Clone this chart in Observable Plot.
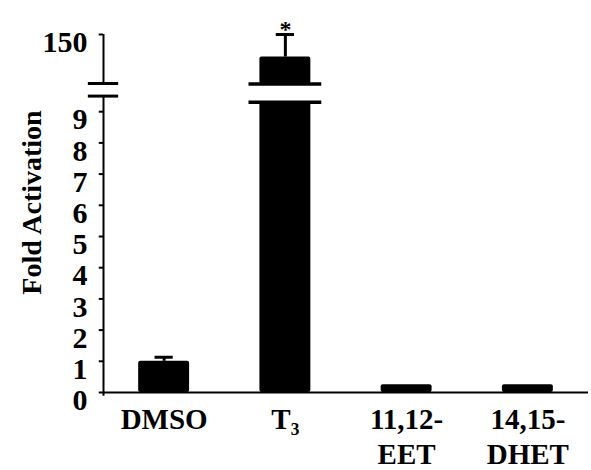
<!DOCTYPE html>
<html>
<head>
<meta charset="utf-8">
<script src="https://cdn.jsdelivr.net/npm/d3@7"></script>
<script src="https://cdn.jsdelivr.net/npm/@observablehq/plot@0.6"></script>
<style>
  body { margin: 0; background: #fff; }
  #chart svg { display: block; }
</style>
</head>
<body>
<div id="chart"></div>
<script>
// Treatment groups, mean fold activation and upper error (SD)
const groups = ["DMSO", "T₃", "11,12-\nEET", "14,15-\nDHET"];
const means = [1.0, 127, 0.25, 0.25];
const errors = [0.13, 23, 0, 0];
const significant = [false, true, false, false];
const yTicks = [0, 1, 2, 3, 4, 5, 6, 7, 8, 9, 150];

// Broken y axis: lower panel 0–9.5, upper panel 100–150
const lowerTop = 9.5, upperBottom = 100, upperTop = 150;
// Where a tall bar is cut on either side of the gap
const barCutLow = 9.3, barCutHigh = 96;

const rows = groups.map((g, i) => ({i, g, mean: means[i], err: errors[i], sig: significant[i]}));
const broken = rows.filter(d => d.mean > upperBottom);
const withErr = rows.filter(d => d.err > 0);

const half = 0.21;       // half bar width, in category units
const capHalf = 0.075;   // half error-cap width
const breakHalf = 0.3;   // half width of the bar break lines
const axisBreakHalf = 0.125;
const tickLen = 0.035;   // y tick length, in category units

const font = "'Liberation Serif', 'Times New Roman', serif";

const chart = Plot.plot({
  width: 591,
  height: 470,
  marginLeft: 103,
  marginRight: 3,
  marginTop: 34,
  marginBottom: 78,
  style: {fontFamily: font, fontWeight: "bold", fontSize: "26px", color: "#000", background: "#fff"},
  x: {type: "linear", domain: [-0.5, 3.5], range: [103, 588], axis: null},
  y: {type: "linear", domain: [0, lowerTop, upperBottom, upperTop], range: [392, 95.6, 83, 34], axis: null},
  marks: [
    // bars (lower part)
    Plot.rectY(rows, {
      x1: d => d.i - half, x2: d => d.i + half,
      y1: 0, y2: d => d.mean > lowerTop ? barCutLow : d.mean,
      fill: "#000", rx: 2
    }),
    // bars (upper part, above the break)
    Plot.rectY(broken, {
      x1: d => d.i - half, x2: d => d.i + half,
      y1: barCutHigh, y2: d => d.mean,
      fill: "#000", rx: 2
    }),
    // break lines across broken bars
    Plot.ruleY(broken.flatMap(d => [{i: d.i, y: barCutLow}, {i: d.i, y: barCutHigh}]), {
      y: "y", x1: d => d.i - breakHalf, x2: d => d.i + breakHalf,
      stroke: "#000", strokeWidth: 3.5
    }),
    // error bars
    Plot.ruleX(withErr, {x: "i", y1: "mean", y2: d => d.mean + d.err, stroke: "#000", strokeWidth: 3}),
    Plot.ruleY(withErr, {
      y: d => d.mean + d.err, x1: d => d.i - capHalf, x2: d => d.i + capHalf,
      stroke: "#000", strokeWidth: 3
    }),
    // significance marker
    Plot.text(rows.filter(d => d.sig), {
      x: "i", y: d => d.mean + d.err, text: () => "*",
      lineAnchor: "bottom", dy: 2, fontSize: 24, fontWeight: "bold", fill: "#000"
    }),
    // baseline
    Plot.ruleY([0], {x1: -0.5, x2: 3.5, stroke: "#000", strokeWidth: 2}),
    // y axis line in two pieces
    Plot.ruleX([-0.5], {y1: -0.12, y2: lowerTop, stroke: "#000", strokeWidth: 2}),
    Plot.ruleX([-0.5], {y1: upperBottom, y2: upperTop, stroke: "#000", strokeWidth: 2}),
    // axis break marks
    Plot.ruleY([lowerTop, upperBottom], {
      x1: -0.5 - axisBreakHalf, x2: -0.5 + axisBreakHalf, stroke: "#000", strokeWidth: 3
    }),
    // y ticks
    Plot.ruleY(yTicks, {x1: -0.5 - tickLen, x2: -0.5, stroke: "#000", strokeWidth: 2}),
    // y tick labels, set slightly below their ticks
    Plot.axisY({
      ticks: yTicks, tickSize: 0, tickPadding: 16, tickFormat: d => String(d),
      dy: 8, fontSize: 30, fontWeight: "bold", label: null
    }),
    Plot.axisX({
      ticks: [0, 1, 2, 3], tickFormat: i => groups[i], tickSize: 0, tickPadding: 12,
      fontSize: 29, fontWeight: "bold", lineHeight: 1.2, label: null
    }),
    // y axis title
    Plot.text(["Fold Activation"], {
      frameAnchor: "left", textAnchor: "middle", rotate: -90, dx: -71, dy: -11,
      fontSize: 28, fontWeight: "bold", fill: "#000"
    })
  ]
});

document.getElementById("chart").appendChild(chart);
</script>
</body>
</html>
